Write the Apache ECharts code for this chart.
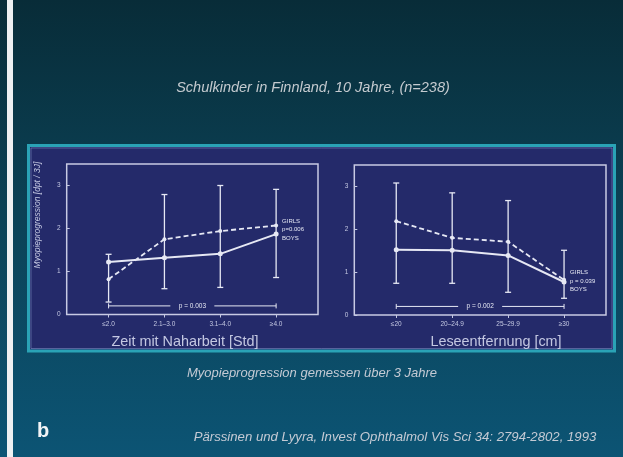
<!DOCTYPE html>
<html><head><meta charset="utf-8">
<script src="https://cdn.jsdelivr.net/npm/echarts@6/dist/echarts.min.js"></script>
<style>html,body{margin:0;padding:0;background:#0b3a4a;}#c{width:623px;height:457px;}</style>
</head><body><div id="c"></div>
<script>
// ---- data ----
const categoriesLeft = ['\u22642.0', '2.1\u20133.0', '3.1\u20134.0', '\u22654.0'];
const girlsLeft = [0.82, 1.75, 1.94, 2.07];
const boysLeft = [1.22, 1.32, 1.41, 1.87];
const errLowLeft = [0.29, 0.60, 0.63, 0.86];
const errHighLeft = [1.40, 2.79, 3.00, 2.91];
const pBracketLeft = 'p = 0.003';
const pLegendLeft = 'p=0.006';

const categoriesRight = ['\u226420', '20\u201324.9', '25\u201329.9', '\u226530'];
const girlsRight = [2.19, 1.80, 1.71, 0.82];
const boysRight = [1.52, 1.51, 1.39, 0.77];
const errLowRight = [0.74, 0.74, 0.53, 0.39];
const errHighRight = [3.08, 2.85, 2.67, 1.51];
const pBracketRight = 'p = 0.002';
const pLegendRight = 'p = 0.039';

const bracketLevel = [0.2, 0.2];
const yTicks = [0, 1, 2, 3];
const xIdx = [0, 1, 2, 3];

const titleText = 'Schulkinder in Finnland, 10 Jahre, (n=238)';
const yName = 'Myopieprogression [dpt / 3J]';
const xNameLeft = 'Zeit mit Naharbeit [Std]';
const xNameRight = 'Leseentfernung [cm]';
const caption = 'Myopieprogression gemessen \u00fcber 3 Jahre';
const panelLetter = 'b';
const citation = 'P\u00e4rssinen und Lyyra, Invest Ophthalmol Vis Sci 34: 2794-2802, 1993';

// ---- styles ----
const FG = '#e6e8f4';
const AX = '#c4c8e2';
const FONT = 'Liberation Sans, Arial, sans-serif';

function pts(arr) { return arr.map((v, i) => [i, v]); }

function xAxisDef(idx, cats) {
  return {
    type: 'value', gridIndex: idx, min: -0.75, max: 3.75,
    splitLine: { show: false }, axisLine: { show: false, onZero: false },
    axisTick: { show: true, customValues: xIdx, length: 3, inside: false, lineStyle: { color: AX, width: 1 } },
    axisLabel: { customValues: xIdx, formatter: v => cats[Math.round(v)] || '', color: AX, fontSize: 6.5, fontFamily: FONT, margin: 6 }
  };
}
function yAxisDef(idx) {
  return {
    type: 'value', gridIndex: idx, min: 0, max: 3.5,
    splitLine: { show: false }, axisLine: { show: false, onZero: false },
    axisTick: { show: true, customValues: yTicks, length: 3, inside: true, lineStyle: { color: AX, width: 1 } },
    axisLabel: { customValues: yTicks, color: AX, fontSize: 6.5, fontFamily: FONT, margin: 6 }
  };
}

function errSeries(idx, low, high) {
  return {
    type: 'custom', xAxisIndex: idx, yAxisIndex: idx, z: 3,
    data: low.map((l, i) => [i, l, high[i]]),
    renderItem: function (params, api) {
      const x = api.value(0);
      const a = api.coord([x, api.value(1)]);
      const b = api.coord([x, api.value(2)]);
      const cap = 3;
      const st = { stroke: FG, lineWidth: 1.3 };
      return { type: 'group', children: [
        { type: 'line', shape: { x1: a[0], y1: a[1], x2: b[0], y2: b[1] }, style: st },
        { type: 'line', shape: { x1: a[0] - cap, y1: a[1], x2: a[0] + cap, y2: a[1] }, style: st },
        { type: 'line', shape: { x1: b[0] - cap, y1: b[1], x2: b[0] + cap, y2: b[1] }, style: st }
      ]};
    }
  };
}

function bracketSeries(idx, level, text) {
  return {
    type: 'custom', xAxisIndex: idx, yAxisIndex: idx, z: 3,
    data: [[0, 3, level]],
    renderItem: function (params, api) {
      const a = api.coord([api.value(0), api.value(2)]);
      const b = api.coord([api.value(1), api.value(2)]);
      const mid = (a[0] + b[0]) / 2;
      const gap = 22;
      const st = { stroke: FG, lineWidth: 1 };
      return { type: 'group', children: [
        { type: 'line', shape: { x1: a[0], y1: a[1], x2: mid - gap, y2: a[1] }, style: st },
        { type: 'line', shape: { x1: mid + gap, y1: a[1], x2: b[0], y2: b[1] }, style: st },
        { type: 'line', shape: { x1: a[0], y1: a[1] - 2.5, x2: a[0], y2: a[1] + 2.5 }, style: st },
        { type: 'line', shape: { x1: b[0], y1: b[1] - 2.5, x2: b[0], y2: b[1] + 2.5 }, style: st },
        { type: 'text', x: mid, y: a[1], style: { text: text, fill: FG, font: '6.5px ' + FONT, align: 'center', verticalAlign: 'middle' } }
      ]};
    }
  };
}

function legendSeries(idx, girls, boys, ptext) {
  const last = girls.length - 1;
  return {
    type: 'custom', xAxisIndex: idx, yAxisIndex: idx, z: 4,
    data: [[last, girls[last], boys[last]]],
    renderItem: function (params, api) {
      const g = api.coord([api.value(0), api.value(1)]);
      const b = api.coord([api.value(0), api.value(2)]);
      const mid = (g[1] + b[1]) / 2;
      const x = g[0] + 6;
      const mk = (t, y) => ({ type: 'text', x: x, y: y, style: { text: t, fill: FG, font: '6px ' + FONT, align: 'left', verticalAlign: 'middle' } });
      return { type: 'group', children: [mk('GIRLS', mid - 8.5), mk(ptext, mid), mk('BOYS', mid + 8.5)] };
    }
  };
}

function lineSeries(idx, data, dashed) {
  return {
    type: 'line', xAxisIndex: idx, yAxisIndex: idx, data: pts(data), z: 5,
    symbol: 'circle', symbolSize: dashed ? 4 : 5,
    itemStyle: { color: FG },
    lineStyle: { color: FG, width: dashed ? 1.8 : 2, type: dashed ? [5, 3] : 'solid' },
    animation: false
  };
}

const chart = echarts.init(document.getElementById('c'), null, { renderer: 'canvas' });
chart.setOption({
  animation: false,
  backgroundColor: 'transparent',
  grid: [
    { left: 66.7, top: 164, width: 251.3, height: 150.5, show: true, borderColor: '#c8cae4', borderWidth: 1.5, backgroundColor: 'transparent' },
    { left: 354.3, top: 165, width: 251.7, height: 150, show: true, borderColor: '#c8cae4', borderWidth: 1.5, backgroundColor: 'transparent' }
  ],
  xAxis: [xAxisDef(0, categoriesLeft), xAxisDef(1, categoriesRight)],
  yAxis: [yAxisDef(0), yAxisDef(1)],
  graphic: [
    { type: 'rect', z: -10, shape: { x: 0, y: 0, width: 623, height: 457 },
      style: { fill: new echarts.graphic.LinearGradient(0, 0, 0, 1, [{ offset: 0, color: '#082c38' }, { offset: 0.45, color: '#0b4155' }, { offset: 1, color: '#0c5474' }]) } },
    { type: 'rect', z: -9, shape: { x: 7, y: 0, width: 6, height: 457 }, style: { fill: '#eef0f2' } },
    { type: 'rect', z: -8, shape: { x: 28.5, y: 145.5, width: 586, height: 205.5 }, style: { fill: '#242a6a', stroke: '#2aa3b6', lineWidth: 3 } },
    { type: 'rect', z: -7, shape: { x: 31, y: 148, width: 581, height: 200.5 }, style: { fill: 'none', stroke: 'rgba(150,170,220,0.45)', lineWidth: 1 } },
    { type: 'text', z: 10, x: 313, y: 88, style: { text: titleText, fill: '#c4cacf', font: 'italic 14.5px ' + FONT, align: 'center', verticalAlign: 'middle' } },
    { type: 'text', z: 10, x: 38, y: 215, rotation: Math.PI / 2, style: { text: yName, fill: AX, font: 'italic 8.5px ' + FONT, align: 'center', verticalAlign: 'middle' } },
    { type: 'text', z: 10, x: 185, y: 342, style: { text: xNameLeft, fill: AX, font: '14.4px ' + FONT, align: 'center', verticalAlign: 'middle' } },
    { type: 'text', z: 10, x: 496, y: 342, style: { text: xNameRight, fill: AX, font: '14.4px ' + FONT, align: 'center', verticalAlign: 'middle' } },
    { type: 'text', z: 10, x: 312, y: 373, style: { text: caption, fill: '#c4cad4', font: 'italic 13px ' + FONT, align: 'center', verticalAlign: 'middle' } },
    { type: 'text', z: 10, x: 37, y: 431, style: { text: panelLetter, fill: '#f2f4f6', font: 'bold 20px ' + FONT, align: 'left', verticalAlign: 'middle' } },
    { type: 'text', z: 10, x: 395, y: 437, style: { text: citation, fill: '#c4cad4', font: 'italic 13.2px ' + FONT, align: 'center', verticalAlign: 'middle' } }
  ],
  series: [
    errSeries(0, errLowLeft, errHighLeft),
    lineSeries(0, girlsLeft, true),
    lineSeries(0, boysLeft, false),
    bracketSeries(0, bracketLevel[0], pBracketLeft),
    legendSeries(0, girlsLeft, boysLeft, pLegendLeft),
    errSeries(1, errLowRight, errHighRight),
    lineSeries(1, girlsRight, true),
    lineSeries(1, boysRight, false),
    bracketSeries(1, bracketLevel[1], pBracketRight),
    legendSeries(1, girlsRight, boysRight, pLegendRight)
  ]
});
</script></body></html>
